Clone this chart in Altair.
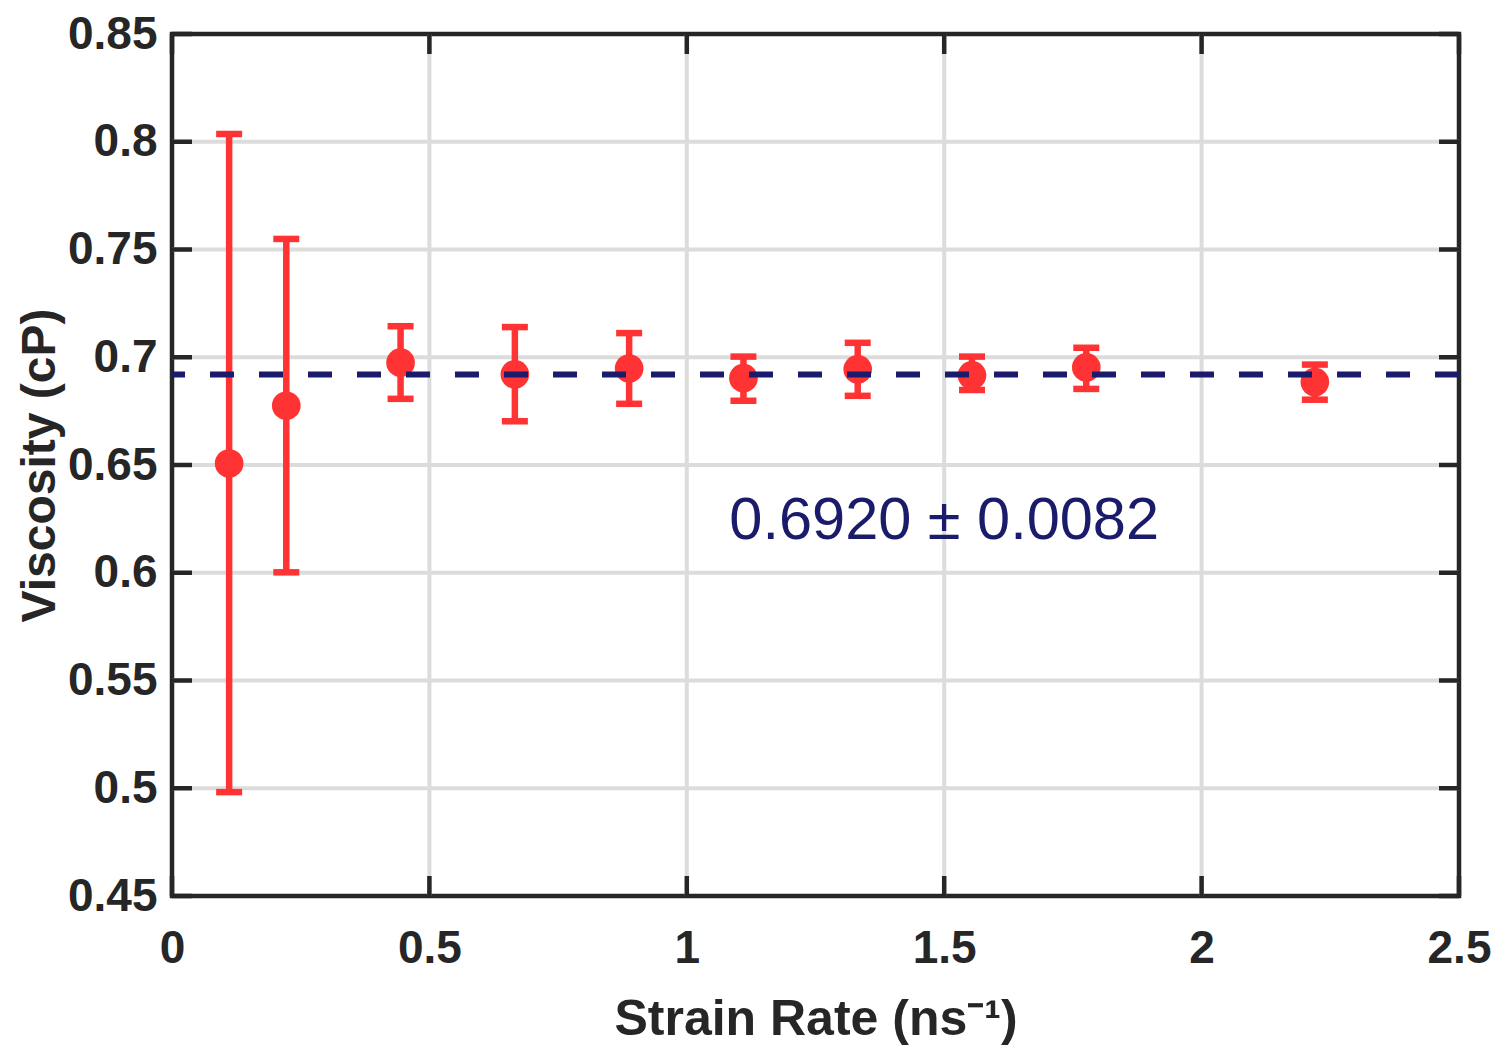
import altair as alt
import pandas as pd

# ---- data ----
strain_rate = [0.111, 0.222, 0.444, 0.666, 0.888, 1.110, 1.332, 1.554, 1.776, 2.220]
viscosity   = [0.6507, 0.6775, 0.6975, 0.6921, 0.6948, 0.6903, 0.6944, 0.6916, 0.6953, 0.6885]
err_upper   = [0.8036, 0.7549, 0.7144, 0.7140, 0.7112, 0.7003, 0.7067, 0.7003, 0.7044, 0.6966]
err_lower   = [0.4982, 0.6002, 0.6807, 0.6703, 0.6784, 0.6798, 0.6821, 0.6848, 0.6853, 0.6803]
mean_value = 0.6920
annotation_text = "0.6920 \u00b1 0.0082"
annotation_x = 1.5
annotation_y = 0.624
x_ticks = [0, 0.5, 1, 1.5, 2, 2.5]
y_ticks = [0.45, 0.5, 0.55, 0.6, 0.65, 0.7, 0.75, 0.8, 0.85]
x_title = "Strain Rate (ns\u207b\u00b9)"
y_title = "Viscosity (cP)"

W, H = 1287, 862
RED = "#FF3333"
NAVY = "#1B1B6B"
DARK = "#262626"
GRID = "#DCDCDC"
FONT = "Liberation Sans"

df = pd.DataFrame({"x": strain_rate, "y": viscosity, "lo": err_lower, "hi": err_upper})
xt = pd.DataFrame({"x": x_ticks})
yt = pd.DataFrame({"y": y_ticks})
xg = pd.DataFrame({"x": x_ticks[1:-1]})
yg = pd.DataFrame({"y": y_ticks[1:-1]})

xscale = alt.Scale(domain=[0, 2.5], nice=False, zero=False)
yscale = alt.Scale(domain=[0.45, 0.85], nice=False, zero=False)

xaxis = alt.Axis(values=x_ticks, title=x_title, grid=False, ticks=False, domain=False,
                 labelFont=FONT, labelFontWeight="bold", labelFontSize=46, labelColor=DARK,
                 labelBaseline="alphabetic", labelPadding=66, labelFlush=False,
                 labelExpr="datum.value == 0 ? '0' : format(datum.value, '.2~f')",
                 titleFont=FONT, titleFontWeight="bold", titleFontSize=50, titleColor=DARK,
                 titleBaseline="alphabetic", titleY=138, titleX=W / 2)
yaxis = alt.Axis(values=y_ticks, title=y_title, grid=False, ticks=False, domain=False,
                 labelFont=FONT, labelFontWeight="bold", labelFontSize=46, labelColor=DARK,
                 labelPadding=15, labelFlush=False,
                 labelExpr="format(datum.value, '.2~f')",
                 titleFont=FONT, titleFontWeight="bold", titleFontSize=48, titleColor=DARK,
                 titleAngle=-90, titleBaseline="middle", titleAlign="center",
                 titleX=-132, titleY=H / 2)

X = lambda f: alt.X(f, type="quantitative", scale=xscale, axis=xaxis)
Y = lambda f: alt.Y(f, type="quantitative", scale=yscale, axis=yaxis)

grid_v = alt.Chart(xg).mark_rule(color=GRID, strokeWidth=4).encode(x=X("x"))
grid_h = alt.Chart(yg).mark_rule(color=GRID, strokeWidth=4).encode(y=Y("y"))

bars = alt.Chart(df).mark_rule(color=RED, strokeWidth=6.5).encode(
    x=X("x"), y=Y("lo"), y2="hi")
cap_hi = alt.Chart(df).mark_tick(color=RED, thickness=6.5, size=26, orient="horizontal", opacity=1).encode(
    x=X("x"), y=Y("hi"))
cap_lo = alt.Chart(df).mark_tick(color=RED, thickness=6.5, size=26, orient="horizontal", opacity=1).encode(
    x=X("x"), y=Y("lo"))
points = alt.Chart(df).mark_circle(color=RED, size=820, opacity=1).encode(
    x=X("x"), y=Y("y"))

mean_line = alt.Chart(pd.DataFrame({"y": [mean_value]})).mark_rule(
    color=NAVY, strokeWidth=6, strokeDash=[24, 25]).encode(y=Y("y"))

label = alt.Chart(pd.DataFrame({"x": [annotation_x], "y": [annotation_y], "t": [annotation_text]})).mark_text(
    font=FONT, fontSize=59.5, color=NAVY, align="center", baseline="middle").encode(
    x=X("x"), y=Y("y"), text="t:N")

TL = 20
TW = 4.5
tick_l = alt.Chart(yt).mark_rule(color=DARK, strokeWidth=TW).encode(
    y=Y("y"), x=alt.value(0), x2=alt.value(TL))
tick_r = alt.Chart(yt).mark_rule(color=DARK, strokeWidth=TW).encode(
    y=Y("y"), x=alt.value(W - TL), x2=alt.value(W))
tick_b = alt.Chart(xt).mark_rule(color=DARK, strokeWidth=TW).encode(
    x=X("x"), y=alt.value(H - TL), y2=alt.value(H))
tick_t = alt.Chart(xt).mark_rule(color=DARK, strokeWidth=TW).encode(
    x=X("x"), y=alt.value(0), y2=alt.value(TL))

chart = alt.layer(
    grid_v, grid_h, bars, cap_hi, cap_lo, points, mean_line, label,
    tick_l, tick_r, tick_b, tick_t
).properties(
    width=W, height=H,
    autosize=alt.AutoSizeParams(type="none"),
    padding={"left": 164, "top": 26, "right": 33, "bottom": 150},
    background="white",
).configure_view(
    stroke=DARK, strokeWidth=4.5
)

chart.save("out.html", embed_options={"renderer": "svg", "actions": False})
